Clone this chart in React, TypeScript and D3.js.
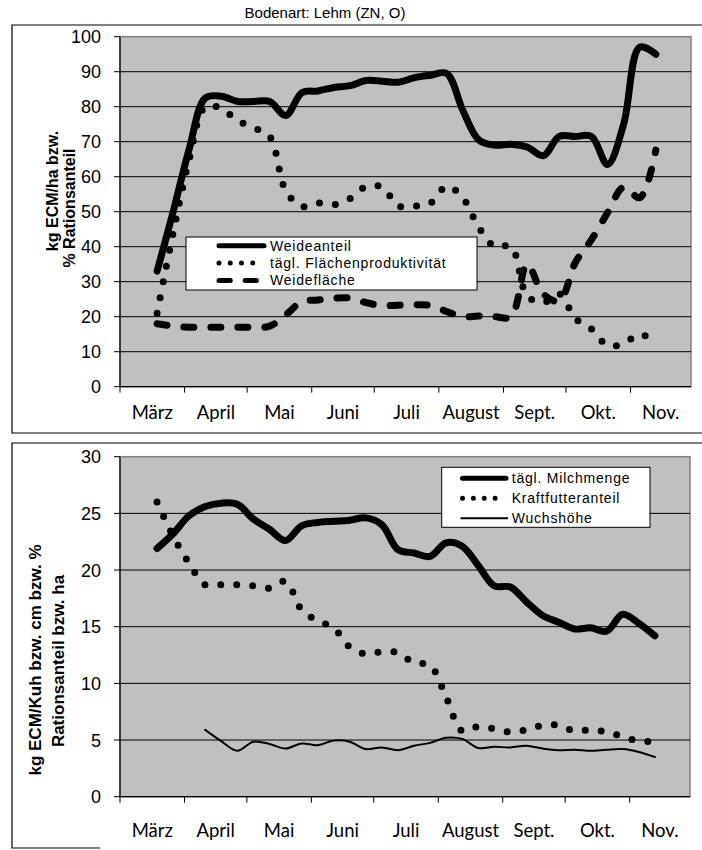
import React from 'react';
import * as d3 from 'd3';

// ---------- data ----------
const monthLabels = ['März', 'April', 'Mai', 'Juni', 'Juli', 'August', 'Sept.', 'Okt.', 'Nov.'];
const monthStartDays = [0, 31, 61, 92, 122, 153, 184, 214, 245];
const seasonEndDay = 274;
const firstSampleDay = 17.8;
const sampleStepDays = 7.72;

const title = 'Bodenart: Lehm (ZN, O)';

// top panel
const weideanteil = [33, 50, 68, 82.5, 83, 81.5, 81.5, 81.5, 77.5, 84, 84.5, 85.5, 86, 87.5, 87.3, 87, 88.3, 89, 89.5, 79, 70.5, 69, 69.3, 68.5, 66, 71.5, 71.5, 71.5, 63.5, 75, 97, 95];
const flaechenproduktivitaet = [21, 44, 65, 80, 79.5, 76, 74, 71.5, 56, 51.5, 52.5, 52, 53.8, 57.2, 57, 51.6, 51.6, 52.5, 57.3, 54, 45.5, 40, 40, 26, 24, 26.5, 19.5, 16.5, 11.8, 12.3, 15, 12.5];
const weideflaeche = [18, 17.3, 17, 17, 17, 17, 17, 17.3, 20.5, 24.3, 24.8, 25.3, 25.3, 24, 23.2, 23.3, 23.4, 23.2, 21.5, 20, 20.2, 20, 20, 35, 26.5, 24.5, 35.5, 42, 49.7, 57, 54, 67.6];
const topTicks = [0, 10, 20, 30, 40, 50, 60, 70, 80, 90, 100];
const topLegend = ['Weideanteil', 'tägl. Flächenproduktivität', 'Weidefläche'];
const topAxisTitle = ['kg ECM/ha bzw.', '% Rationsanteil'];

// bottom panel
const milchmenge = [21.9, 23.2, 24.8, 25.6, 25.9, 25.8, 24.5, 23.6, 22.6, 23.9, 24.2, 24.3, 24.4, 24.6, 24.0, 21.8, 21.5, 21.2, 22.4, 22.1, 20.4, 18.6, 18.5, 17.2, 16.0, 15.4, 14.8, 14.9, 14.6, 16.1, 15.3, 14.2];
const kraftfutteranteil = [26, 23, 20.6, 18.7, 18.7, 18.7, 18.6, 18.4, 19.0, 16.5, 15.5, 14.9, 13.2, 12.6, 12.8, 12.7, 11.8, 11.6, 8.8, 5.8, 6.2, 6.0, 5.7, 5.9, 6.3, 6.3, 5.8, 5.9, 5.7, 5.3, 4.9, 4.9];
const wuchshoehe = [null, null, null, 5.9, 4.9, 4.05, 4.85, 4.65, 4.25, 4.7, 4.55, 4.95, 4.85, 4.2, 4.35, 4.1, 4.5, 4.75, 5.2, 5.1, 4.3, 4.4, 4.35, 4.5, 4.25, 4.1, 4.15, 4.05, 4.15, 4.2, 3.95, 3.5];
const bottomTicks = [0, 5, 10, 15, 20, 25, 30];
const bottomLegend = ['tägl. Milchmenge', 'Kraftfutteranteil', 'Wuchshöhe'];
const bottomAxisTitle = ['kg ECM/Kuh bzw. cm bzw. %', 'Rationsanteil bzw. ha'];

const sampleDays = weideanteil.map((_, i) => firstSampleDay + i * sampleStepDays);

// ---------- styles ----------
const ARIAL = '"Liberation Sans", Arial, sans-serif';
const CAL = 'Lato, "Open Sans", sans-serif';

type Style = { width: number; dash?: string };
const SOLID: Style = { width: 7 };
const DOTS: Style = { width: 7, dash: '0 16' };
const DASH: Style = { width: 7, dash: '10 17' };
const THIN: Style = { width: 2 };

type PanelProps = {
  left: number; right: number; top: number; bottom: number;
  yMax: number; ticks: number[];
  series: { values: (number | null)[]; style: Style }[];
  labelBaseline: number;
  legend: { x: number; y: number; w: number; h: number; rowY: number[]; symX: [number, number]; textX: number; items: string[]; styles: string[] };
  axisTitle: string[];
  axisTitlePos: { x: number; y: number }[];
  axisTitleSize: number;
};

function Panel(p: PanelProps) {
  const x = d3.scaleLinear().domain([0, seasonEndDay]).range([p.left, p.right]);
  const y = d3.scaleLinear().domain([0, p.yMax]).range([p.bottom, p.top]);
  const line = d3
    .line<number | null>()
    .defined((d) => d !== null)
    .x((_, i) => x(sampleDays[i]))
    .y((d) => y(d as number))
    .curve(d3.curveCatmullRom.alpha(0.5));

  const labelCenters = monthLabels.map((_, i) => {
    const a = monthStartDays[i];
    const b = i + 1 < monthStartDays.length ? monthStartDays[i + 1] : seasonEndDay;
    return (a + b) / 2;
  });

  const lg = p.legend;
  const symbol = (kind: string, yy: number) => {
    const [x1, x2] = lg.symX;
    if (kind === 'solid')
      return <line x1={x1} x2={x2} y1={yy} y2={yy} stroke="#000" strokeWidth={5} strokeLinecap="round" />;
    if (kind === 'dots')
      return <line x1={x1} x2={x2} y1={yy} y2={yy} stroke="#000" strokeWidth={5} strokeLinecap="round" strokeDasharray={`0 ${(x2 - x1) / 4}`} />;
    if (kind === 'dash')
      return <line x1={x1} x2={x2} y1={yy} y2={yy} stroke="#000" strokeWidth={5} strokeLinecap="round" strokeDasharray={`${(x2 - x1) * 0.25} ${(x2 - x1) * 0.33} ${(x2 - x1) * 0.25} ${(x2 - x1) * 0.17} 0 100`} />;
    return <line x1={x1 - 2} x2={x2 + 2} y1={yy} y2={yy} stroke="#000" strokeWidth={2} />;
  };

  return (
    <g>
      <rect x={p.left} y={p.top} width={p.right - p.left} height={p.bottom - p.top} fill="#c0c0c0" stroke="#808080" strokeWidth={1.5} />
      {p.ticks.slice(1, -1).map((t) => (
        <line key={t} x1={p.left} x2={p.right} y1={y(t)} y2={y(t)} stroke="#000" strokeWidth={1} />
      ))}
      <line x1={p.left} x2={p.left} y1={p.top} y2={p.bottom} stroke="#000" strokeWidth={1.2} />
      <line x1={p.left} x2={p.right} y1={p.bottom} y2={p.bottom} stroke="#000" strokeWidth={1.2} />
      {p.ticks.map((t) => (
        <g key={t}>
          <line x1={p.left - 6} x2={p.left} y1={y(t)} y2={y(t)} stroke="#000" strokeWidth={1} />
          <text x={p.left - 19} y={y(t)} dy="0.36em" textAnchor="end" fontFamily={ARIAL} fontSize={18}>{t}</text>
        </g>
      ))}
      {monthStartDays.map((d) => (
        <line key={d} x1={x(d)} x2={x(d)} y1={p.bottom} y2={p.bottom + 6} stroke="#000" strokeWidth={1} />
      ))}
      {monthLabels.map((m, i) => (
        <text key={m} x={x(labelCenters[i])} y={p.labelBaseline} textAnchor="middle" fontFamily={CAL} fontSize={18.5}>{m}</text>
      ))}
      {p.series.map((s, i) => (
        <path key={i} d={line(s.values) || ''} fill="none" stroke="#000" strokeWidth={s.style.width}
          strokeDasharray={s.style.dash} strokeLinecap="round" strokeLinejoin="round" />
      ))}
      <rect x={lg.x} y={lg.y} width={lg.w} height={lg.h} fill="#fff" stroke="#000" strokeWidth={1} />
      {lg.items.map((it, i) => (
        <g key={it}>
          {symbol(lg.styles[i], lg.rowY[i])}
          <text x={lg.textX} y={lg.rowY[i]} dy="0.35em" fontFamily={ARIAL} fontSize={14} letterSpacing={0.8}>{it}</text>
        </g>
      ))}
      {p.axisTitle.map((t, i) => (
        <text key={t} transform={`translate(${p.axisTitlePos[i].x},${p.axisTitlePos[i].y}) rotate(-90)`} textAnchor="middle" dy="0.35em"
          fontFamily={ARIAL} fontWeight="bold" fontSize={p.axisTitleSize}>{t}</text>
      ))}
    </g>
  );
}

export default function App() {
  return (
    <svg width={702} height={850} style={{ position: 'absolute', left: 0, top: 0, background: '#fff' }}>
      <rect x={0} y={0} width={702} height={850} fill="#fff" />
      <text x={325} y={18} textAnchor="middle" fontFamily={ARIAL} fontSize={15}>{title}</text>
      <path d="M702,25 H12 V433 H702" fill="none" stroke="#000" strokeWidth={1.2} />
      <path d="M702,443 H12 V848 H100" fill="none" stroke="#000" strokeWidth={1.2} />
      <Panel
        left={120} right={691} top={36.7} bottom={386.7} yMax={100} ticks={topTicks}
        series={[
          { values: weideflaeche, style: DASH },
          { values: flaechenproduktivitaet, style: DOTS },
          { values: weideanteil, style: SOLID },
        ]}
        labelBaseline={418.5}
        legend={{ x: 186, y: 237, w: 291, h: 53, rowY: [245.7, 263, 280.5], symX: [219, 264], textX: 270, items: topLegend, styles: ['solid', 'dots', 'dash'] }}
        axisTitle={topAxisTitle}
        axisTitlePos={[{ x: 52, y: 191 }, { x: 69, y: 208 }]}
        axisTitleSize={16}
      />
      <Panel
        left={120} right={690} top={456.7} bottom={796.7} yMax={30} ticks={bottomTicks}
        series={[
          { values: wuchshoehe, style: THIN },
          { values: kraftfutteranteil, style: DOTS },
          { values: milchmenge, style: SOLID },
        ]}
        labelBaseline={836.5}
        legend={{ x: 441.7, y: 467.3, w: 208.3, h: 60, rowY: [478.3, 498.3, 518.3], symX: [462.5, 506], textX: 511.7, items: bottomLegend, styles: ['solid', 'dots', 'thin'] }}
        axisTitle={bottomAxisTitle}
        axisTitlePos={[{ x: 35, y: 660 }, { x: 58, y: 661 }]}
        axisTitleSize={17}
      />
    </svg>
  );
}
